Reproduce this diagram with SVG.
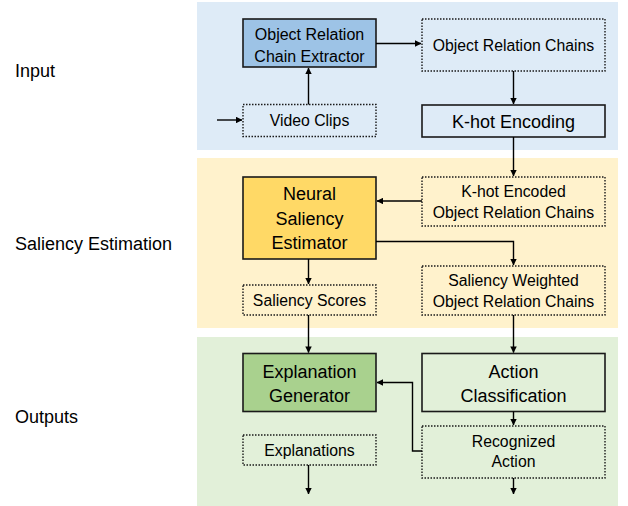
<svg xmlns="http://www.w3.org/2000/svg" width="628" height="506" viewBox="0 0 628 506">
<defs>
<style>
.lbl{font-family:"Liberation Sans",Arial,sans-serif;font-size:18px;fill:#000}
.t16{font-family:"Liberation Sans",Arial,sans-serif;font-size:16px;fill:#000;text-anchor:middle}
.t15{font-family:"Liberation Sans",Arial,sans-serif;font-size:15.8px;fill:#000;text-anchor:middle}
.t18{font-family:"Liberation Sans",Arial,sans-serif;font-size:18px;fill:#000;text-anchor:middle}
.solid{stroke:#1a1a1a;stroke-width:1.6}
.dot{stroke:#1a1a1a;stroke-width:1.4;stroke-dasharray:1.5 1.5}
.conn{fill:none;stroke:#000;stroke-width:1.4}
</style>
<marker id="ah" viewBox="0 0 8 8" refX="7.5" refY="4" markerWidth="6.5" markerHeight="6.5" markerUnits="userSpaceOnUse" orient="auto">
<path d="M0,0 L8,4 L0,8 z" fill="#000"/>
</marker>
</defs>
<g id="bands">
<rect x="197" y="2" width="421" height="148" fill="#deebf7"/>
<rect x="197" y="158" width="421" height="170" fill="#fff2cc"/>
<rect x="197" y="337" width="421" height="169" fill="#e2f0d9"/>
</g>
<g id="section-labels">
<text class="lbl" x="15" y="77">Input</text>
<text class="lbl" x="15" y="250">Saliency Estimation</text>
<text class="lbl" x="15" y="423">Outputs</text>
</g>
<g id="extractor">
<rect class="solid" x="243" y="19" width="133" height="48" fill="#9dc3e6"/>
<text class="t16" x="309.5" y="40">Object Relation</text>
<text class="t16" x="309.5" y="62">Chain Extractor</text>
</g>
<g id="orc">
<rect class="dot" x="422" y="19" width="183" height="52" fill="#deebf7"/>
<text class="t15" x="513.5" y="50.5">Object Relation Chains</text>
</g>
<g id="video">
<rect class="dot" x="243" y="104.5" width="133" height="32" fill="#deebf7"/>
<text class="t15" x="309.5" y="126">Video Clips</text>
</g>
<g id="khot">
<rect class="solid" x="422" y="105" width="183" height="32" fill="#deebf7"/>
<text class="t18" x="513.5" y="127.5">K-hot Encoding</text>
</g>
<g id="khot-encoded">
<rect class="dot" x="422" y="177" width="183" height="49" fill="#fff2cc"/>
<text class="t15" x="513.5" y="196.5">K-hot Encoded</text>
<text class="t15" x="513.5" y="217.5">Object Relation Chains</text>
</g>
<g id="neural">
<rect class="solid" x="243" y="177" width="133" height="82" fill="#ffd966"/>
<text class="t18" x="309.5" y="200">Neural</text>
<text class="t18" x="309.5" y="225">Saliency</text>
<text class="t18" x="309.5" y="249">Estimator</text>
</g>
<g id="scores">
<rect class="dot" x="243" y="285" width="133" height="30" fill="#fff2cc"/>
<text class="t15" x="309.5" y="306">Saliency Scores</text>
</g>
<g id="weighted">
<rect class="dot" x="422" y="266" width="183" height="49" fill="#fff2cc"/>
<text class="t15" x="513.5" y="286">Saliency Weighted</text>
<text class="t15" x="513.5" y="306.5">Object Relation Chains</text>
</g>
<g id="explgen">
<rect class="solid" x="243" y="353.5" width="133" height="58" fill="#a9d18e"/>
<text class="t18" x="309.5" y="377.5">Explanation</text>
<text class="t18" x="309.5" y="401.5">Generator</text>
</g>
<g id="action">
<rect class="solid" x="422" y="353.5" width="183" height="58" fill="#e2f0d9"/>
<text class="t18" x="513.5" y="377.5">Action</text>
<text class="t18" x="513.5" y="401.5">Classification</text>
</g>
<g id="explanations">
<rect class="dot" x="243" y="435" width="133" height="30" fill="#e2f0d9"/>
<text class="t15" x="309.5" y="456">Explanations</text>
</g>
<g id="recognized">
<rect class="dot" x="422" y="426" width="183" height="52" fill="#e2f0d9"/>
<text class="t15" x="513.5" y="446.5">Recognized</text>
<text class="t15" x="513.5" y="467">Action</text>
</g>
<g id="connectors">
<path class="conn" d="M217,120 H242" marker-end="url(#ah)"/>
<path class="conn" d="M308.5,104.5 V68" marker-end="url(#ah)"/>
<path class="conn" d="M376,43.5 H421" marker-end="url(#ah)"/>
<path class="conn" d="M513.5,71 V104" marker-end="url(#ah)"/>
<path class="conn" d="M513.5,137 V176" marker-end="url(#ah)"/>
<path class="conn" d="M422,201 H377" marker-end="url(#ah)"/>
<path class="conn" d="M376,241.5 H513.5 V265" marker-end="url(#ah)"/>
<path class="conn" d="M308.5,259 V284" marker-end="url(#ah)"/>
<path class="conn" d="M308.5,315 V352.5" marker-end="url(#ah)"/>
<path class="conn" d="M513.5,315 V352.5" marker-end="url(#ah)"/>
<path class="conn" d="M513.5,411.5 V425" marker-end="url(#ah)"/>
<path class="conn" d="M422,451 H412.5 V382.5 H377" marker-end="url(#ah)"/>
<path class="conn" d="M308.5,465 V494" marker-end="url(#ah)"/>
<path class="conn" d="M513.5,478 V494" marker-end="url(#ah)"/>
</g>
</svg>
